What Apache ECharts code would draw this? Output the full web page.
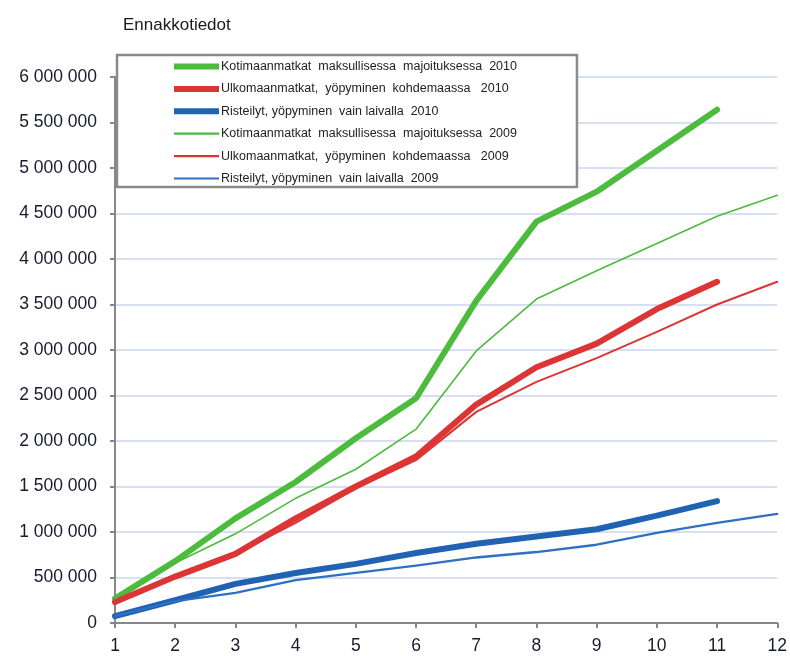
<!DOCTYPE html>
<html>
<head>
<meta charset="utf-8">
<script src="https://cdn.jsdelivr.net/npm/echarts@6/dist/echarts.min.js"></script>
<style>html,body{margin:0;padding:0;background:#fff}#c{width:790px;height:662px}</style>
</head>
<body>
<div id="c"></div>
<script>
const categories = ['1','2','3','4','5','6','7','8','9','10','11','12'];
const names = [
  'Kotimaanmatkat  maksullisessa  majoituksessa  2010',
  'Ulkomaanmatkat,  yöpyminen  kohdemaassa   2010',
  'Risteilyt, yöpyminen  vain laivalla  2010',
  'Kotimaanmatkat  maksullisessa  majoituksessa  2009',
  'Ulkomaanmatkat,  yöpyminen  kohdemaassa   2009',
  'Risteilyt, yöpyminen  vain laivalla  2009'
];
const green2010 = [270000, 680000, 1150000, 1550000, 2030000, 2470000, 3540000, 4410000, 4740000, 5190000, 5640000];
const red2010   = [230000, 510000, 760000, 1150000, 1500000, 1830000, 2400000, 2810000, 3070000, 3450000, 3750000];
const blue2010  = [75000, 250000, 430000, 550000, 650000, 770000, 870000, 950000, 1030000, 1180000, 1340000];
const green2009 = [270000, 660000, 980000, 1370000, 1690000, 2130000, 2990000, 3560000, 3870000, 4170000, 4470000, 4700000];
const red2009   = [230000, 510000, 760000, 1100000, 1480000, 1790000, 2320000, 2650000, 2910000, 3200000, 3500000, 3750000];
const blue2009  = [75000, 240000, 330000, 470000, 550000, 630000, 720000, 780000, 860000, 990000, 1100000, 1200000];

const GREEN = '#4dbb3d', RED = '#dd3535', BLUE = '#1f63b2', BLUE2 = '#2e70c2';
const font = '"Liberation Sans", Arial, sans-serif';
const thickIcon = 'path://M0 0H45V6H0Z';
const thinIcon = 'path://M0 0H45V2.2H0Z';

function fmt(v){ return String(v).replace(/\B(?=(\d{3})+(?!\d))/g, ' '); }

const chart = echarts.init(document.getElementById('c'), null, {renderer:'canvas'});
const mk = (name, data, color, width, z) => ({
  name, type:'line', data, showSymbol:false, symbol:'none', smooth:false, z,
  lineStyle:{color, width, cap:'round', join:'round'}, itemStyle:{color}
});
chart.setOption({
  animation:false,
  backgroundColor:'#fff',
  title:{text:'Ennakkotiedot', left:118, top:12, textStyle:{fontFamily:font, fontSize:17, fontWeight:'normal', color:'#1a1a1a'}},
  legend:{
    orient:'vertical', left:117, top:55,
    backgroundColor:'#fff', borderColor:'#8a8a8a', borderWidth:2.5,
    padding:[5, 60, 2, 57],
    itemWidth:45, itemHeight:14, itemGap:9.4,
    itemStyle:{borderWidth:0},
    textStyle:{fontFamily:font, fontSize:12.5, color:'#222', padding:[0,0,0,-3]},
    data:[
      {name:names[0], icon:thickIcon},
      {name:names[1], icon:thickIcon},
      {name:names[2], icon:thickIcon},
      {name:names[3], icon:thinIcon},
      {name:names[4], icon:thinIcon},
      {name:names[5], icon:thinIcon}
    ],
    z:10
  },
  grid:{left:115, right:9, top:77, bottom:39, containLabel:false},
  xAxis:{
    type:'category', data:categories, boundaryGap:false,
    axisLine:{lineStyle:{color:'#878787', width:2}},
    axisTick:{show:true, length:5, lineStyle:{color:'#878787', width:2}},
    axisLabel:{fontFamily:font, fontSize:17.5, color:'#1a1a2e', margin:14, showMaxLabel:true}
  },
  yAxis:{
    type:'value', min:0, max:6000000, interval:500000,
    axisLine:{show:true, lineStyle:{color:'#878787', width:2}},
    axisTick:{show:true, length:5, lineStyle:{color:'#878787', width:2}},
    axisLabel:{fontFamily:font, fontSize:17.5, color:'#1a1a2e', margin:18, formatter:fmt},
    splitLine:{lineStyle:{color:'#c8d6ee', width:1.5}}
  },
  series:[
    mk(names[0], green2010, GREEN, 6, 3),
    mk(names[1], red2010, RED, 6, 3),
    mk(names[2], blue2010, BLUE, 6, 3),
    mk(names[3], green2009, GREEN, 1.6, 4),
    mk(names[4], red2009, RED, 2, 4),
    mk(names[5], blue2009, BLUE2, 2.3, 4)
  ]
});
</script>
</body>
</html>
